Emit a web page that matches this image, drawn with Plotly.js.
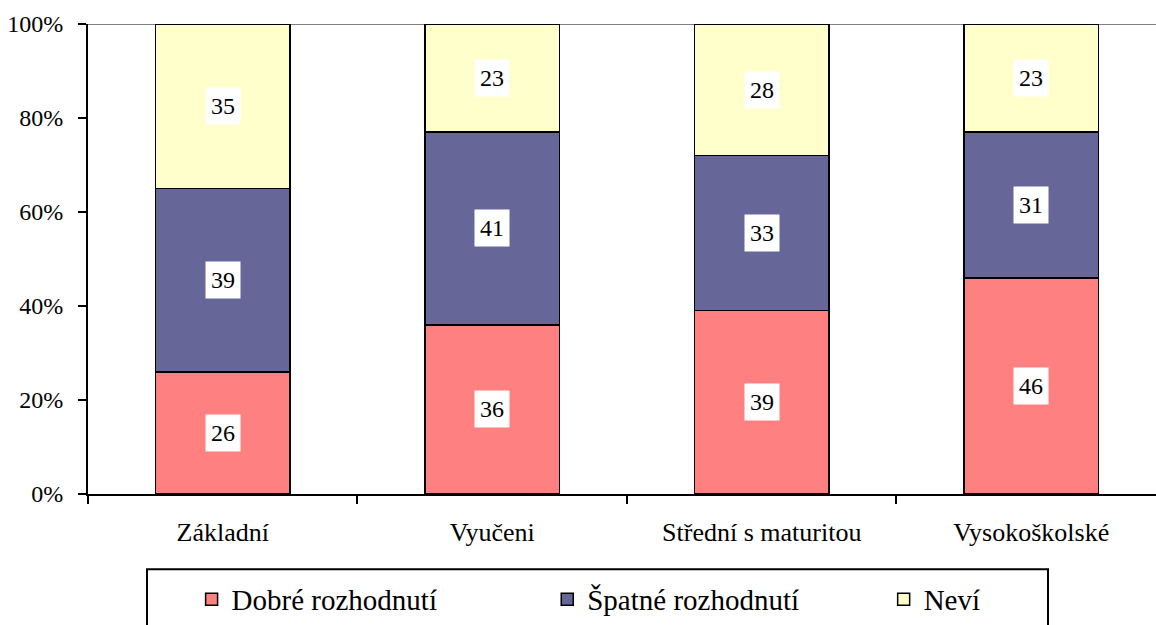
<!DOCTYPE html>
<html>
<head>
<meta charset="utf-8">
<script src="https://cdn.plot.ly/plotly-3.0.1.min.js"></script>
<style>html,body{margin:0;padding:0;overflow:hidden;background:#fff}#chart{width:1156px;height:625px}</style>
</head>
<body>
<div id="chart"></div>
<script>
const categories = ["Základní", "Vyučeni", "Střední s maturitou", "Vysokoškolské"];
const seriesNames = ["Dobré rozhodnutí", "Špatné rozhodnutí", "Neví"];
const dobre = [26, 36, 39, 46];
const spatne = [39, 41, 33, 31];
const nevi = [35, 23, 28, 23];
const yTicks = [0, 20, 40, 60, 80, 100];

const FONT = "'Liberation Serif', 'Times New Roman', Times, serif";
const colors = ["#FF8080", "#666699", "#FFFFCC"];
const seriesValues = [dobre, spatne, nevi];
const legendIds = ["legend", "legend2", "legend3"];
const legendX = [0.097, 0.43, 0.745];

const traces = seriesValues.map((vals, i) => ({
  type: "bar",
  name: seriesNames[i],
  x: categories,
  y: vals,
  width: 0.5,
  marker: {color: colors[i], line: {color: "#000", width: 1.5}},
  hoverinfo: "skip",
  legend: legendIds[i]
}));

const annotations = [];
categories.forEach((c, ci) => {
  let base = 0;
  seriesValues.forEach(vals => {
    const v = vals[ci];
    annotations.push({
      x: c, y: base + v / 2, xref: "x", yref: "y",
      text: String(v), showarrow: false,
      bgcolor: "#fff", borderpad: 5,
      font: {family: FONT, size: 24, color: "#000"}
    });
    base += v;
  });
});

const legendBase = {
  orientation: "h", yanchor: "middle", y: -0.224, xanchor: "left",
  font: {family: FONT, size: 29, color: "#000"},
  bgcolor: "rgba(0,0,0,0)", borderwidth: 0
};

const layout = {
  width: 1156, height: 625,
  margin: {l: 88, r: 0, t: 24, b: 126},
  paper_bgcolor: "#fff", plot_bgcolor: "#fff",
  barmode: "stack",
  showlegend: true,
  font: {family: FONT, color: "#000"},
  xaxis: {
    type: "category", range: [-0.5, 3.463],
    showline: true, linecolor: "#000", linewidth: 2,
    ticks: "outside", ticklen: 8, tickwidth: 2, tickcolor: "#000",
    tickson: "boundaries", showgrid: false, zeroline: false,
    tickfont: {family: FONT, size: 26, color: "#000"},
    ticklabelstandoff: 14, fixedrange: true
  },
  yaxis: {
    range: [0, 100], tickvals: yTicks, ticktext: yTicks.map(t => t + "%"),
    showline: true, linecolor: "#000", linewidth: 2,
    ticks: "outside", ticklen: 8, tickwidth: 2, tickcolor: "#000",
    showgrid: false, zeroline: false,
    tickfont: {family: FONT, size: 24, color: "#000"},
    ticklabelstandoff: 10, fixedrange: true
  },
  shapes: [
    {type: "line", xref: "paper", yref: "y", x0: 0, x1: 1, y0: 100, y1: 100,
     line: {color: "#808080", width: 2}, layer: "below"},
    {type: "rect", xref: "paper", yref: "paper",
     x0: (147 - 88) / 1068, x1: (1048 - 88) / 1068,
     y0: (499 - 575) / 475, y1: (499 - 660) / 475,
     line: {color: "#000", width: 2}, fillcolor: "rgba(0,0,0,0)"}
  ],
  annotations: annotations
};
legendIds.forEach((id, i) => {
  layout[id] = Object.assign({}, legendBase, {x: legendX[i]});
});

Plotly.newPlot("chart", traces, layout, {displayModeBar: false, staticPlot: true});
</script>
</body>
</html>
